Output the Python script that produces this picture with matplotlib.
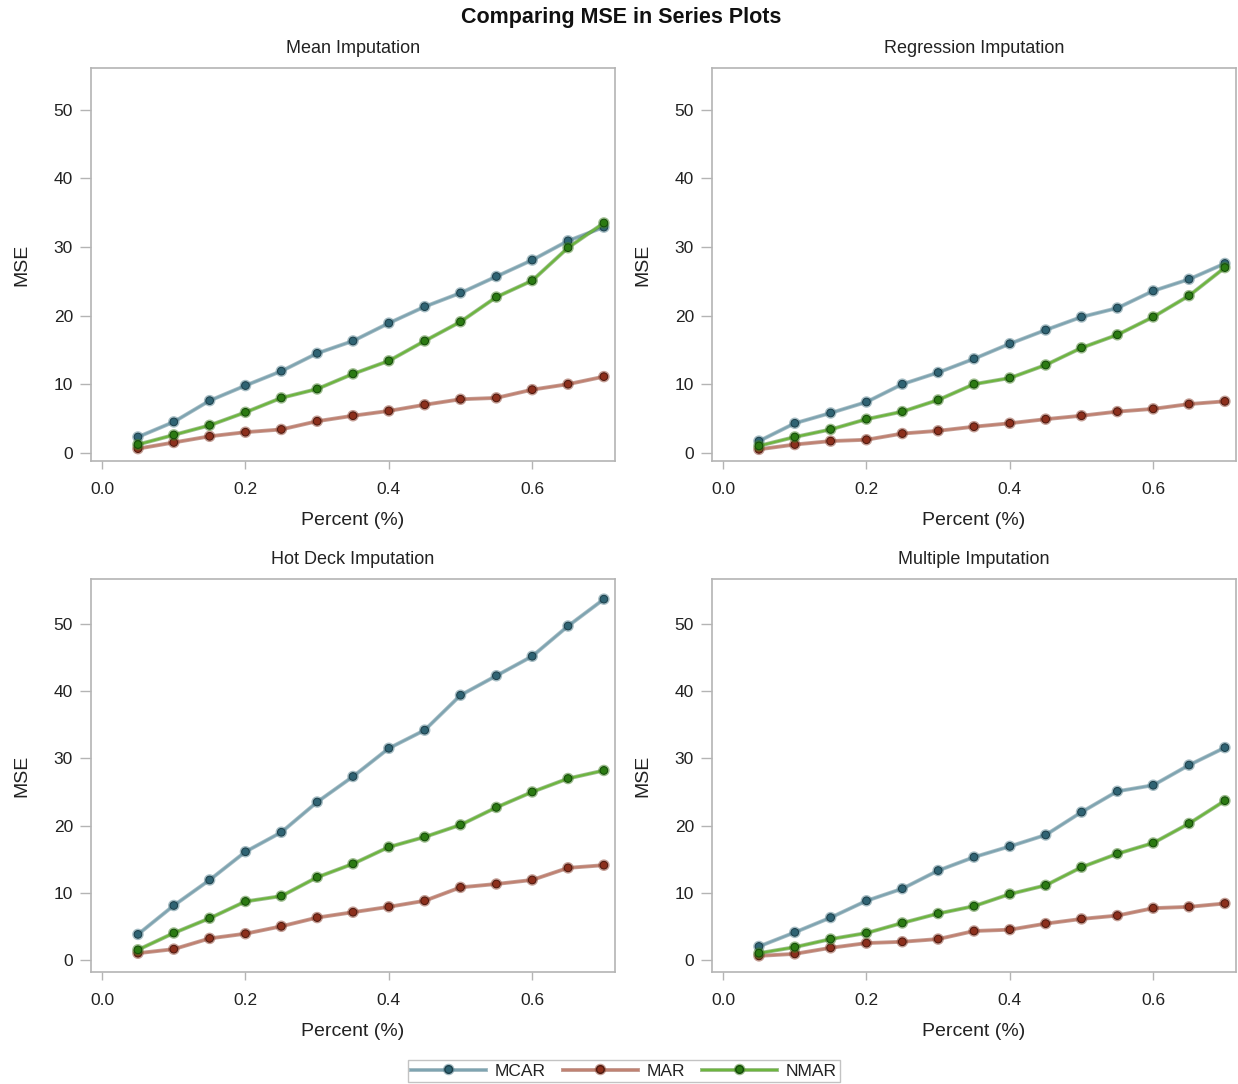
import matplotlib
matplotlib.use("Agg")
import matplotlib.pyplot as plt
import matplotlib.patheffects as pe
from matplotlib.lines import Line2D

plt.rcParams['font.family'] = ['Liberation Sans', 'DejaVu Sans']

# missing rate on the x axis
pct = [0.05, 0.10, 0.15, 0.20, 0.25, 0.30, 0.35, 0.40, 0.45, 0.50, 0.55, 0.60, 0.65, 0.70]

titles = ["Mean Imputation", "Regression Imputation", "Hot Deck Imputation", "Multiple Imputation"]

mean_mcar = [2.3, 4.5, 7.6, 9.8, 11.9, 14.5, 16.3, 18.9, 21.3, 23.3, 25.7, 28.1, 30.9, 32.9]
mean_mar = [0.6, 1.5, 2.4, 3.0, 3.4, 4.6, 5.4, 6.1, 7.0, 7.8, 8.0, 9.2, 10.0, 11.1]
mean_nmar = [1.2, 2.6, 4.0, 5.9, 8.0, 9.3, 11.5, 13.4, 16.3, 19.1, 22.7, 25.1, 29.9, 33.5]

reg_mcar = [1.7, 4.3, 5.8, 7.4, 10.0, 11.7, 13.7, 15.9, 17.9, 19.8, 21.1, 23.6, 25.3, 27.6]
reg_mar = [0.5, 1.2, 1.7, 1.9, 2.8, 3.2, 3.8, 4.3, 4.9, 5.4, 6.0, 6.4, 7.1, 7.5]
reg_nmar = [1.0, 2.3, 3.4, 4.9, 6.0, 7.7, 10.0, 10.9, 12.8, 15.3, 17.2, 19.8, 22.9, 27.0]

hot_mcar = [3.8, 8.1, 11.9, 16.1, 19.0, 23.5, 27.3, 31.5, 34.2, 39.4, 42.3, 45.2, 49.7, 53.7]
hot_mar = [1.0, 1.6, 3.2, 3.9, 5.0, 6.3, 7.1, 7.9, 8.8, 10.8, 11.3, 11.9, 13.7, 14.1]
hot_nmar = [1.5, 4.0, 6.2, 8.7, 9.5, 12.3, 14.3, 16.8, 18.3, 20.1, 22.7, 25.0, 27.0, 28.2]

mult_mcar = [2.0, 4.1, 6.3, 8.8, 10.6, 13.3, 15.3, 16.9, 18.6, 22.0, 25.1, 26.0, 29.0, 31.6]
mult_mar = [0.6, 0.9, 1.8, 2.5, 2.7, 3.1, 4.3, 4.5, 5.4, 6.1, 6.6, 7.7, 7.9, 8.4]
mult_nmar = [1.0, 1.9, 3.1, 4.0, 5.5, 6.9, 8.0, 9.8, 11.1, 13.8, 15.8, 17.4, 20.3, 23.7]

panels = [
    (mean_mcar, mean_mar, mean_nmar),
    (reg_mcar, reg_mar, reg_nmar),
    (hot_mcar, hot_mar, hot_nmar),
    (mult_mcar, mult_mar, mult_nmar),
]

names = ["MCAR", "MAR", "NMAR"]
# (line, line edge, marker face, marker edge)
styles = [
    ("#7fa4b1", "#4f7d8b", "#2f6373", "#1d3f4a"),
    ("#c08272", "#8a3e2c", "#8c2f1c", "#4e1a10"),
    ("#6db53f", "#3d7d1f", "#2b7a12", "#134a08"),
]

fig = plt.figure(figsize=(12.38, 10.84), dpi=100)
W, H = 1238, 1084
boxes = [(91, 68), (712, 68), (91, 579), (712, 579)]
aw, ah = 524, 393

def glow(ledge):
    return [pe.Stroke(linewidth=2.8, foreground=ledge, alpha=0.5), pe.Normal()]

for i, (vals, title) in enumerate(zip(panels, titles)):
    x0, y0 = boxes[i]
    ax = fig.add_axes([x0 / W, 1 - (y0 + ah) / H, aw / W, ah / H])
    for v, name, st in zip(vals, names, styles):
        ln, ledge, mface, medge = st
        ax.plot(pct, v, color=ln, lw=1.6, marker="o", ms=5.5,
                mfc=mface, mec=medge, mew=0.7, path_effects=glow(ledge))
    ax.set_xlim(-0.0155, 0.7155)
    if i < 2:
        ax.set_ylim(-1.2, 56.1)
    else:
        ax.set_ylim(-1.8, 56.7)
    ax.set_xticks([0.0, 0.2, 0.4, 0.6])
    ax.set_xticklabels(["0.0", "0.2", "0.4", "0.6"])
    ax.set_yticks([0, 10, 20, 30, 40, 50])
    for s in ax.spines.values():
        s.set_color("#b4b4b4")
        s.set_linewidth(1.2)
    ax.tick_params(axis="both", colors="#b4b4b4", labelcolor="#222222", labelsize=12.5,
                   width=1.0)
    ax.tick_params(axis="x", length=6, pad=9)
    ax.tick_params(axis="y", length=8, pad=5)
    ax.set_xlabel("Percent (%)", fontsize=14, color="#222222", labelpad=11)
    ax.set_ylabel("MSE", fontsize=14, color="#222222", labelpad=17)
    ax.set_title(title, fontsize=13, color="#222222", pad=11)

fig.text(0.502, 1 - 17 / H, "Comparing MSE in Series Plots", ha="center", va="center",
         fontsize=15.5, fontweight="bold", color="#111111")

handles = []
for name, st in zip(names, styles):
    ln, ledge, mface, medge = st
    handles.append(Line2D([0, 1, 2], [0, 0, 0], color=ln, lw=1.6, marker="o", ms=5.5,
                          mfc=mface, mec=medge, markevery=[1], path_effects=glow(ledge)))
leg = fig.legend(handles, names, loc="center", bbox_to_anchor=(624 / W, 1 - 1071 / H),
                 ncol=3, frameon=True, fancybox=False, fontsize=12.5, handlelength=4.3,
                 columnspacing=1.0, handletextpad=0.5, borderpad=0.2, borderaxespad=0)
leg.get_frame().set_edgecolor("#b4b4b4")
leg.get_frame().set_linewidth(1.0)
for t in leg.get_texts():
    t.set_color("#222222")

fig.savefig("out.png", dpi=100)
